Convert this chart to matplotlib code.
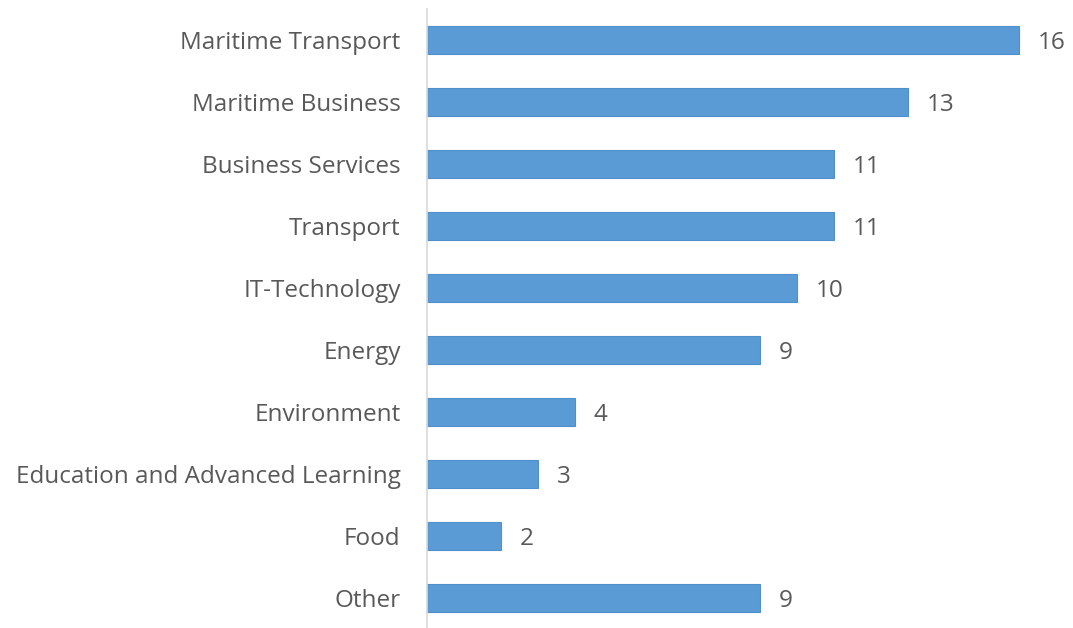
import matplotlib.pyplot as plt
import numpy as np

categories = ["Maritime Transport", "Maritime Business", "Business Services",
              "Transport", "IT-Technology", "Energy", "Environment",
              "Education and Advanced Learning", "Food", "Other"]
counts = [16, 13, 11, 11, 10, 9, 4, 3, 2, 9]

plt.rcParams['font.family'] = ['Open Sans', 'DejaVu Sans']
text_color = "#595959"

fig = plt.figure(figsize=(10.73, 6.28), dpi=100)
ax = fig.add_axes([427/1073, -1/628, 646/1073, 620/628])

y = np.arange(len(categories))
ax.barh(y, counts, height=0.44, color="#5b9bd5", edgecolor="#4f8fcc", linewidth=0.8)
ax.set_ylim(len(categories) - 0.5, -0.5)
ax.set_xlim(0, 646/37)

ax.set_yticks(y)
ax.set_yticklabels(categories, fontsize=17.5, color=text_color)
ax.tick_params(axis="y", length=0, pad=19)
ax.set_xticks([])

for a, b in zip(y, counts):
    ax.text(b + 0.5, a, "%d" % b, ha="left", va="center_baseline",
            fontsize=17.5, color=text_color)

for side in ["top", "right", "bottom"]:
    ax.spines[side].set_visible(False)
ax.spines["left"].set_color("#d9d9d9")
ax.spines["left"].set_linewidth(1.2)

fig.savefig("out.png", dpi=100)
